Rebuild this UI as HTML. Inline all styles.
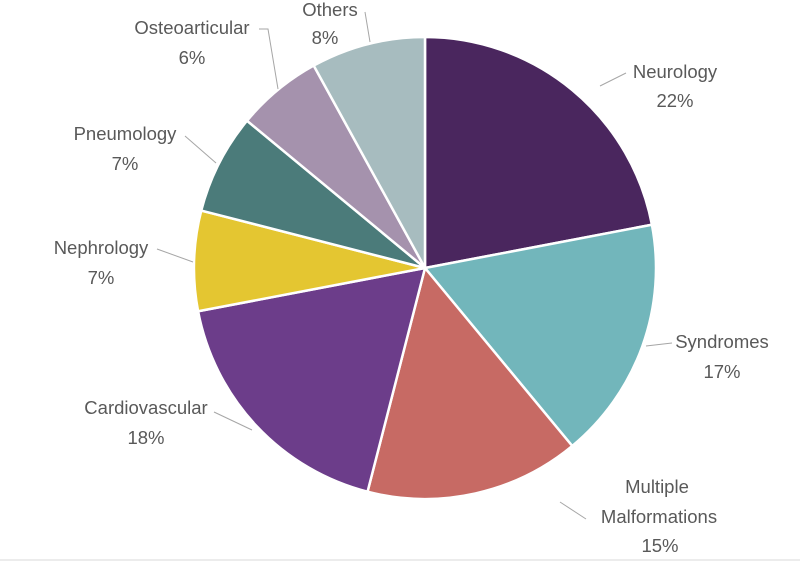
<!DOCTYPE html>
<html><head><meta charset="utf-8"><style>
html,body{margin:0;padding:0;background:#fff;}
svg{display:block;font-family:"Liberation Sans",sans-serif;}
.lbl{font-size:18.5px;fill:#595959;text-anchor:middle;}
.ld{stroke:#a6a6a6;stroke-width:1;fill:none;}
</style></head><body>
<svg id="chart" width="800" height="563" viewBox="0 0 800 563">
<line x1="0" y1="560" x2="800" y2="560" stroke="#d9d9d9"/>
<g id="slices"></g>
<g id="labels"></g>
</svg>
<script>
const categories=["Neurology","Syndromes","Multiple Malformations","Cardiovascular","Nephrology","Pneumology","Osteoarticular","Others"];
const values=[22,17,15,18,7,7,6,8];
const colors=["#4a265e","#72b6bb","#c76a64","#6c3d8a","#e4c631","#4b7b7a","#a592ad","#a7bcbf"];
const NS="http://www.w3.org/2000/svg";
const cx=425,cy=268,r=231;
const total=values.reduce((a,b)=>a+b,0);
function pt(a,rr){return [cx+rr*Math.sin(a),cy-rr*Math.cos(a)];}
const sg=document.getElementById('slices');
let acc=0;
values.forEach((v,i)=>{
  const a0=acc/total*2*Math.PI; acc+=v; const a1=acc/total*2*Math.PI;
  const p0=pt(a0,r),p1=pt(a1,r);
  const large=(a1-a0)>Math.PI?1:0;
  const p=document.createElementNS(NS,'path');
  p.setAttribute('d',`M${cx},${cy}L${p0[0]},${p0[1]}A${r},${r} 0 ${large} 1 ${p1[0]},${p1[1]}Z`);
  p.setAttribute('fill',colors[i]);p.setAttribute('stroke','#fff');p.setAttribute('stroke-width','2.5');
  
  
  sg.appendChild(p);
});
const layout=[
 {lines:[[675,78],[675,107]],lead:"M600,86L626,73"},
 {lines:[[722,348],[722,378]],lead:"M646,346L672,343"},
 {lines:[[657,493],[659,523],[660,552]],lead:"M560,502L586,519"},
 {lines:[[146,414],[146,444]],lead:"M214,412L252,430"},
 {lines:[[101,254],[101,284]],lead:"M157,249L193,262"},
 {lines:[[125,140],[125,170]],lead:"M185,136L216,163"},
 {lines:[[192,34],[192,64]],lead:"M259,29L268,29L278,89"},
 {lines:[[330,16],[325,44]],lead:"M365,12L370,42"}
];
const lg=document.getElementById('labels');
categories.forEach((c,i)=>{
  const L=layout[i];
  const words=c==="Multiple Malformations"?["Multiple","Malformations"]:[c];
  const texts=words.concat([values[i]+"%"]);
  const path=document.createElementNS(NS,'path');
  path.setAttribute('d',L.lead);path.setAttribute('class','ld');
  
  
  lg.appendChild(path);
  texts.forEach((t,j)=>{
    const e=document.createElementNS(NS,'text');
    e.setAttribute('x',L.lines[j][0]);e.setAttribute('y',L.lines[j][1]);
    e.setAttribute('class','lbl');e.textContent=t;
    
    
    lg.appendChild(e);
  });
});
</script>
</body></html>
